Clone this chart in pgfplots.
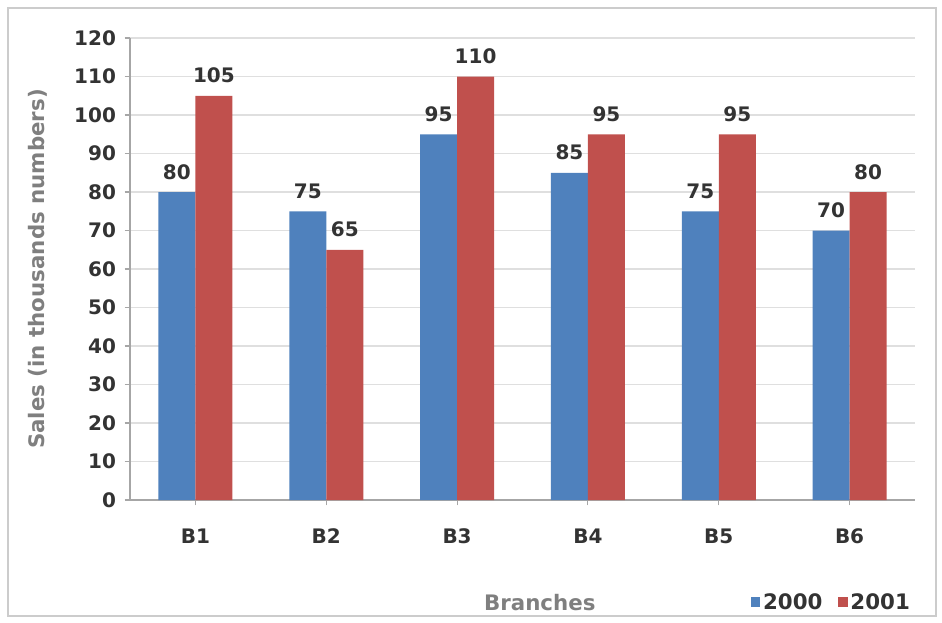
\documentclass[border=0pt]{standalone}
\usepackage{pgfplots}
\pgfplotsset{compat=1.18}
\usepackage{fontspec}
\setmainfont{DejaVu Sans}
\definecolor{cblue}{HTML}{4F81BD}
\definecolor{cred}{HTML}{C0504D}
\definecolor{txt}{HTML}{333333}
\definecolor{lbl}{HTML}{7F7F7F}
\begin{document}
\begin{tikzpicture}
\path[use as bounding box] (-97.5pt,-91.5pt) rectangle (609pt,375pt);
\draw[gray!40, line width=0.8pt] (-91.5pt,-87pt) rectangle (604.5pt,369pt);
\begin{axis}[
  at={(0,0)}, anchor=south west,
  width=588.75pt, height=346.5pt, scale only axis,
  ybar=0pt, bar width=27.75pt,
  xmin=-0.5, xmax=5.5, ymin=0, ymax=120,
  xtick=data, xticklabels={B1,B2,B3,B4,B5,B6},
  ytick={0,10,...,120},
  axis x line*=bottom, axis y line*=left,
  axis line style={gray!70, line width=0.8pt},
  tick style={gray!70, line width=0.8pt},
  major tick length=4pt,
  tick align=outside,
  ymajorgrids, grid style={gray!25, line width=0.8pt},
  tick label style={font=\fontsize{15pt}{17pt}\selectfont\bfseries, text=txt},
  /pgf/number format/assume math mode=true,
  xticklabel style={yshift=-14pt},
  yticklabel style={xshift=-3pt},
  xlabel={Branches}, ylabel={Sales (in thousands numbers)},
  label style={font=\fontsize{16pt}{18pt}\selectfont\bfseries, text=lbl},
  xlabel style={at={(axis description cs:0.522,-0.223)}, anchor=center},
  ylabel style={at={(axis description cs:-0.117,0.5)}, anchor=center},
  nodes near coords,
  every node near coord/.append style={font=\fontsize{15pt}{17pt}\selectfont\bfseries, text=txt, yshift=6pt},
  legend style={at={(0.894,-0.221)}, anchor=center, draw=none, fill=none,
    legend columns=2, font=\fontsize{16pt}{18pt}\selectfont\bfseries, text=txt,
    /tikz/every even column/.append style={column sep=10pt}},
  legend image code/.code={\fill[#1] (2pt,-3.5pt) rectangle (9pt,3.5pt);},
]
\addplot[fill=cblue, draw=none] coordinates {(0,80) (1,75) (2,95) (3,85) (4,75) (5,70)};
\addplot[fill=cred, draw=none] coordinates {(0,105) (1,65) (2,110) (3,95) (4,95) (5,80)};
\legend{2000,2001}
\end{axis}
\end{tikzpicture}
\end{document}
